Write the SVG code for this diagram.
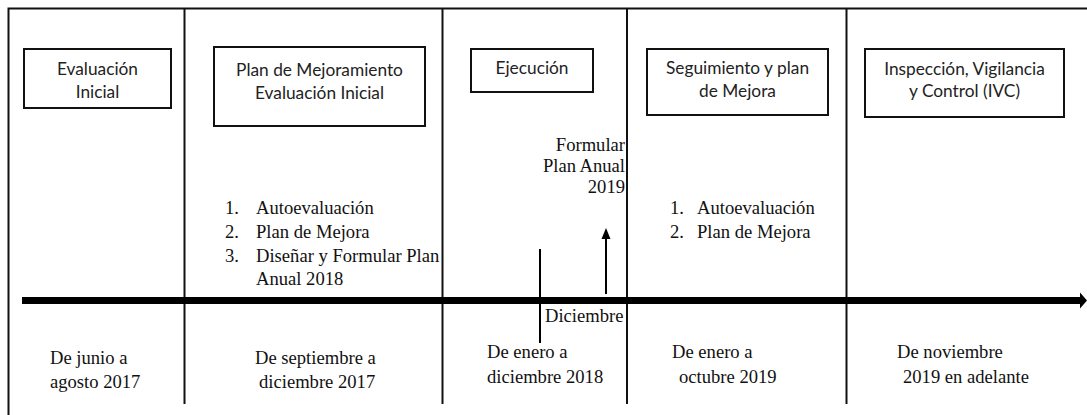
<svg xmlns="http://www.w3.org/2000/svg" width="1087" height="415" viewBox="0 0 1087 415">
<style>
.frame{stroke:#111;stroke-width:2;fill:none}
.div{stroke:#111;stroke-width:2;fill:none}
.box{fill:#fff;stroke:#111;stroke-width:2}
.bt{font-family:'Lato',sans-serif;font-size:17.3px;fill:#222;text-anchor:middle}
.st{font-family:'Liberation Serif',serif;font-size:18.6px;fill:#111}
.end{text-anchor:end}
.conn{stroke:#000;fill:none}
</style>
<rect width="1087" height="415" fill="#fff"/>
<g id="frame">
<path class="frame" d="M8.5 415 V8.5 H1087"/>
<path class="div" d="M184.5 8.5 V404 M442.5 8.5 V404 M627 8.5 V404 M846.5 8.5 V404"/>
</g>
<g id="node-evaluacion">
<rect class="box" x="24" y="49" width="147" height="59"/>
<text class="bt" x="97.5" y="75">Evaluación</text>
<text class="bt" x="97.5" y="98">Inicial</text>
</g>
<g id="node-plan-mejoramiento">
<rect class="box" x="214" y="47" width="211" height="79"/>
<text class="bt" x="319.5" y="76">Plan de Mejoramiento</text>
<text class="bt" x="319.5" y="99">Evaluación Inicial</text>
</g>
<g id="node-ejecucion">
<rect class="box" x="471" y="49" width="122" height="43"/>
<text class="bt" x="532" y="74">Ejecución</text>
</g>
<g id="node-seguimiento">
<rect class="box" x="647" y="49" width="181" height="66"/>
<text class="bt" x="737.5" y="74">Seguimiento y plan</text>
<text class="bt" x="737.5" y="97">de Mejora</text>
</g>
<g id="node-ivc">
<rect class="box" x="865" y="49" width="199" height="68"/>
<text class="bt" x="964.5" y="75">Inspección, Vigilancia</text>
<text class="bt" x="964.5" y="97">y Control (IVC)</text>
</g>
<g id="list-plan">
<text class="st" x="225" y="214">1.</text><text class="st" x="256" y="214">Autoevaluación</text>
<text class="st" x="225" y="238">2.</text><text class="st" x="256" y="238">Plan de Mejora</text>
<text class="st" x="225" y="262">3.</text><text class="st" x="256" y="262">Diseñar y Formular Plan</text>
<text class="st" x="256" y="285">Anual 2018</text>
</g>
<g id="list-seguimiento">
<text class="st" x="670" y="214">1.</text><text class="st" x="697" y="214">Autoevaluación</text>
<text class="st" x="670" y="238">2.</text><text class="st" x="697" y="238">Plan de Mejora</text>
</g>
<g id="label-formular">
<text class="st end" x="625" y="151">Formular</text>
<text class="st end" x="625" y="172">Plan Anual</text>
<text class="st end" x="625" y="193">2019</text>
</g>
<g id="label-diciembre">
<text class="st" x="545" y="322">Diciembre</text>
</g>
<g id="dates">
<text class="st" x="50" y="364">De junio a</text>
<text class="st" x="50" y="388">agosto 2017</text>
<text class="st" x="255" y="364">De septiembre a</text>
<text class="st" x="259" y="388">diciembre 2017</text>
<text class="st" x="487" y="358">De enero a</text>
<text class="st" x="487" y="383">diciembre 2018</text>
<text class="st" x="672" y="358">De enero a</text>
<text class="st" x="679" y="383">octubre 2019</text>
<text class="st" x="897" y="358">De noviembre</text>
<text class="st" x="903" y="383">2019 en adelante</text>
</g>
<g id="connectors">
<line class="conn" x1="22" y1="300.5" x2="1081" y2="300.5" stroke-width="7"/>
<polygon points="1080,292.5 1087,300.5 1080,308.5" fill="#000"/>
<line class="conn" x1="540" y1="249" x2="540" y2="343" stroke-width="2"/>
<line class="conn" x1="606" y1="294" x2="606" y2="237" stroke-width="2"/>
<polygon points="601.5,239 606,228 610.5,239" fill="#000"/>
</g>
</svg>
